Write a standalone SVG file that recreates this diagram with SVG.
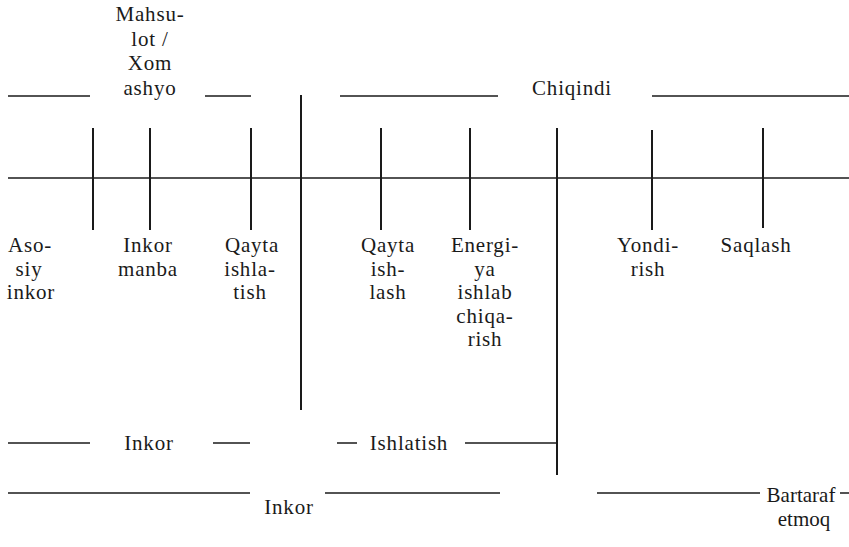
<svg xmlns="http://www.w3.org/2000/svg" width="849" height="547" viewBox="0 0 849 547">
<style>
text{font-family:'Liberation Serif','Times New Roman',serif;font-size:21px;letter-spacing:0.8px;fill:#1a1a1a;text-anchor:middle}
.ln{stroke:#1a1a1a;stroke-width:1.5;fill:none}
.tk{stroke:#1a1a1a;stroke-width:2;fill:none}
</style>
<rect width="849" height="547" fill="#fff"/>
<g id="connectors">
<line class="ln" x1="8" y1="178" x2="849" y2="178"/>
<line class="ln" x1="8" y1="96" x2="90" y2="96"/>
<line class="ln" x1="205" y1="96" x2="251" y2="96"/>
<line class="ln" x1="340" y1="96" x2="498" y2="96"/>
<line class="ln" x1="652" y1="96" x2="849" y2="96"/>
<line class="tk" x1="301" y1="95" x2="301" y2="410"/>
<line class="tk" x1="557" y1="128" x2="557" y2="475"/>
<line class="tk" x1="93" y1="128" x2="93" y2="230"/>
<line class="tk" x1="150" y1="128" x2="150" y2="230"/>
<line class="tk" x1="251" y1="128" x2="251" y2="230"/>
<line class="tk" x1="381" y1="128" x2="381" y2="230"/>
<line class="tk" x1="470" y1="128" x2="470" y2="230"/>
<line class="tk" x1="652" y1="130" x2="652" y2="230"/>
<line class="tk" x1="763" y1="128" x2="763" y2="228"/>
<line class="ln" x1="8" y1="443" x2="90" y2="443"/>
<line class="ln" x1="213" y1="443" x2="250" y2="443"/>
<line class="ln" x1="337" y1="443" x2="357" y2="443"/>
<line class="ln" x1="465" y1="443" x2="557" y2="443"/>
<line class="ln" x1="8" y1="493" x2="250" y2="493"/>
<line class="ln" x1="325" y1="493" x2="500" y2="493"/>
<line class="ln" x1="597" y1="493" x2="760" y2="493"/>
<line class="ln" x1="840" y1="493" x2="849" y2="493"/>
</g>
<g id="mahsulot"><text x="150" y="21">Mahsu-</text><text x="150" y="45.5">lot /</text><text x="150" y="70">Xom</text><text x="150" y="94.5">ashyo</text></g>
<g id="chiqindi"><text x="572" y="95">Chiqindi</text></g>
<g id="asosiy-inkor"><text x="30" y="252">Aso-</text><text x="29" y="275.5">siy</text><text x="31" y="299">inkor</text></g>
<g id="inkor-manba"><text x="148" y="252">Inkor</text><text x="148" y="275.5">manba</text></g>
<g id="qayta-ishlatish"><text x="252" y="252">Qayta</text><text x="250" y="275.5">ishla-</text><text x="250" y="299">tish</text></g>
<g id="qayta-ishlash"><text x="388" y="252">Qayta</text><text x="388" y="275.5">ish-</text><text x="388" y="299">lash</text></g>
<g id="energiya"><text x="485" y="252">Energi-</text><text x="485" y="275.5">ya</text><text x="485" y="299">ishlab</text><text x="485" y="322.5">chiqa-</text><text x="485" y="346">rish</text></g>
<g id="yondirish"><text x="648" y="252">Yondi-</text><text x="648" y="275.5">rish</text></g>
<g id="saqlash"><text x="756" y="252">Saqlash</text></g>
<g id="inkor-group"><text x="149" y="450">Inkor</text></g>
<g id="ishlatish-group"><text x="409" y="450">Ishlatish</text></g>
<g id="inkor-bottom"><text x="289" y="514">Inkor</text></g>
<g id="bartaraf"><text x="801" y="502" style="letter-spacing:0">Bartaraf</text><text x="804" y="526" style="letter-spacing:0">etmoq</text></g>
</svg>
